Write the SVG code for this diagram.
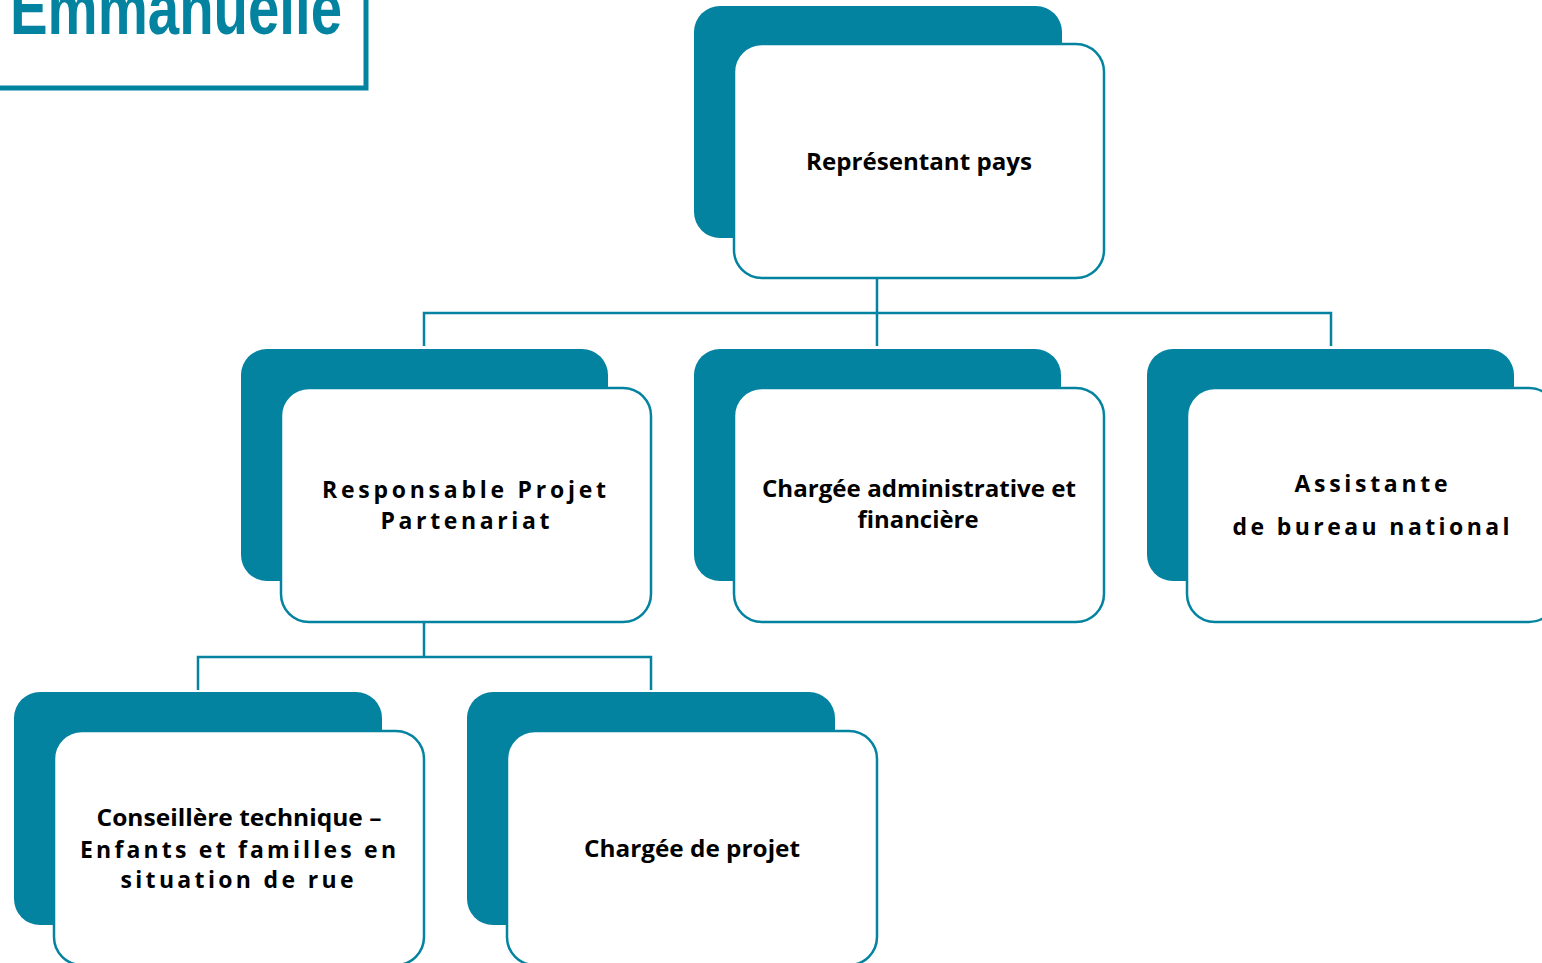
<svg xmlns="http://www.w3.org/2000/svg" width="1542" height="963" viewBox="0 0 1542 963">
<style>
.back{fill:#0383a0;}
.front{fill:#ffffff;stroke:#0383a0;stroke-width:2.5;}
.conn{fill:none;stroke:#0383a0;stroke-width:2.5;}
.lbl{font-family:"Open Sans","Noto Sans","Liberation Sans",sans-serif;font-weight:bold;font-size:23px;fill:#000;text-anchor:middle;}
.title{font-family:"Liberation Sans","DejaVu Sans",sans-serif;font-weight:bold;font-size:74px;fill:#0383a0;}
</style>
<rect width="1542" height="963" fill="#ffffff"/>
<g id="title">
<path d="M-5,88 H366 V-5" fill="none" stroke="#0383a0" stroke-width="5"/>
<text class="title" x="10" y="34" textLength="332" lengthAdjust="spacingAndGlyphs">Emmanuelle</text>
</g>
<g id="connectors">
<path class="conn" d="M877,278 V346 M424,346 V313 H1331 V346"/>
<path class="conn" d="M424,623 V657 M198,690 V657 H651 V690"/>
</g>
<g id="n-representant">
<rect class="back" x="694" y="6" width="368" height="232" rx="26"/>
<rect class="front" x="734" y="44" width="370" height="234" rx="28"/>
<text class="lbl" x="919" y="170" textLength="226" lengthAdjust="spacingAndGlyphs">Représentant pays</text>
</g>
<g id="n-responsable">
<rect class="back" x="241" y="349" width="367" height="232" rx="26"/>
<rect class="front" x="281" y="388" width="370" height="234" rx="28"/>
<text class="lbl" x="464" y="498" textLength="284" lengthAdjust="spacing">Responsable Projet</text>
<text class="lbl" x="465" y="529" textLength="169" lengthAdjust="spacing">Partenariat</text>
</g>
<g id="n-chargee-admin">
<rect class="back" x="694" y="349" width="367" height="232" rx="26"/>
<rect class="front" x="734" y="388" width="370" height="234" rx="28"/>
<text class="lbl" x="919" y="497" textLength="314" lengthAdjust="spacingAndGlyphs">Chargée administrative et</text>
<text class="lbl" x="918" y="528" textLength="121" lengthAdjust="spacingAndGlyphs">financière</text>
</g>
<g id="n-assistante">
<rect class="back" x="1147" y="349" width="367" height="232" rx="26"/>
<rect class="front" x="1187" y="388" width="370" height="234" rx="28"/>
<text class="lbl" x="1371" y="492" textLength="153" lengthAdjust="spacing">Assistante</text>
<text class="lbl" x="1371" y="535" textLength="277" lengthAdjust="spacing">de bureau national</text>
</g>
<g id="n-conseillere">
<rect class="back" x="14" y="692" width="368" height="233" rx="26"/>
<rect class="front" x="54" y="731" width="370" height="234" rx="28"/>
<text class="lbl" x="239" y="826" textLength="285" lengthAdjust="spacingAndGlyphs">Conseillère technique –</text>
<text class="lbl" x="238" y="858" textLength="316" lengthAdjust="spacing">Enfants et familles en</text>
<text class="lbl" x="237" y="888" textLength="233" lengthAdjust="spacing">situation de rue</text>
</g>
<g id="n-chargee-projet">
<rect class="back" x="467" y="692" width="368" height="233" rx="26"/>
<rect class="front" x="507" y="731" width="370" height="234" rx="28"/>
<text class="lbl" x="692" y="857" textLength="216" lengthAdjust="spacingAndGlyphs">Chargée de projet</text>
</g>
</svg>
